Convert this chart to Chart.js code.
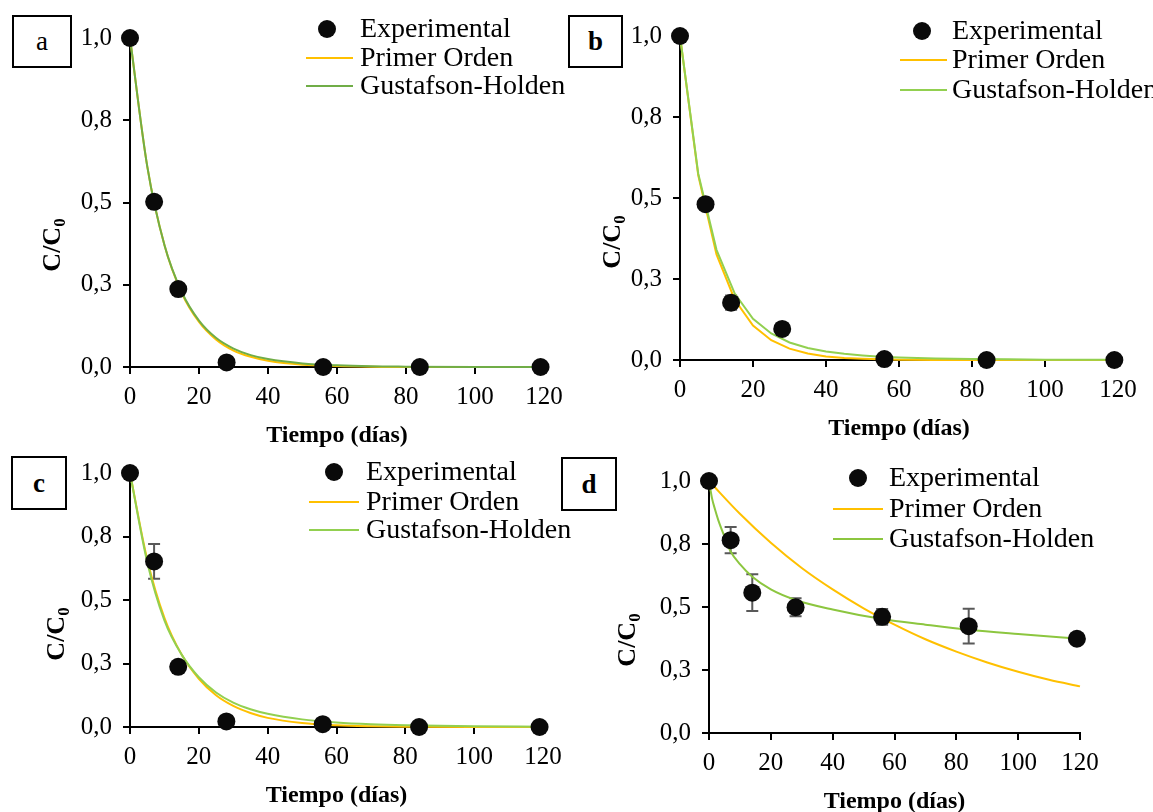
<!DOCTYPE html>
<html><head><meta charset="utf-8">
<script src="https://cdn.jsdelivr.net/npm/chart.js@4/dist/chart.umd.min.js"></script>
<style>
html,body{margin:0;padding:0;background:#fff;width:1153px;height:812px;overflow:hidden;position:relative;}
canvas{position:absolute;left:0;top:0;}
.box{position:absolute;border:2px solid #000;box-sizing:border-box;font-family:'Liberation Serif',serif;font-size:27px;display:flex;align-items:center;justify-content:center;color:#000;background:#fff;}
</style></head><body>
<script>
// ---- data ----
const days = [0, 7, 14, 28, 56, 84, 119];
const xTickValues = [0, 20, 40, 60, 80, 100, 120];
const yTickLabels = ['0,0', '0,3', '0,5', '0,8', '1,0'];
const seriesNames = ['Experimental', 'Primer Orden', 'Gustafson-Holden'];
const panelLetters = ['a', 'b', 'c', 'd'];

const expA = [1.0, 0.502, 0.237, 0.014, 0.0, 0.0, 0.0];
const errA = [0, 0, 0, 0, 0, 0, 0];
const expB = [1.0, 0.481, 0.177, 0.096, 0.003, 0.0, 0.0];
const errB = [0, 0, 0.022, 0, 0, 0, 0];
const expC = [1.0, 0.652, 0.237, 0.022, 0.011, 0.0, 0.0];
const errC = [0, 0.068, 0, 0, 0, 0, 0];
const expD = [1.0, 0.765, 0.557, 0.499, 0.461, 0.424, 0.374];
const errD = [0, 0.052, 0.073, 0.036, 0.031, 0.069, 0];

const modelDaysA = [0, 5, 10, 15, 20, 25, 30, 35, 40, 50, 60, 70, 80, 100, 120];
const primerA = [1.0, 0.61, 0.37, 0.225, 0.137, 0.083, 0.05, 0.031, 0.019, 0.007, 0.003, 0.001, 0, 0, 0];
const ghA     = [1.0, 0.61, 0.37, 0.228, 0.141, 0.088, 0.056, 0.036, 0.024, 0.011, 0.005, 0.002, 0.001, 0, 0];

const modelDaysB = [0, 5, 10, 15, 20, 25, 30, 35, 40, 45, 50, 55, 60, 70, 80, 90, 100, 110, 120];
const primerB = [1.0, 0.57, 0.326, 0.186, 0.106, 0.061, 0.035, 0.02, 0.011, 0.006, 0.004, 0.002, 0.001, 0, 0, 0, 0, 0, 0];
const ghB     = [1.0, 0.575, 0.34, 0.205, 0.127, 0.082, 0.054, 0.037, 0.026, 0.019, 0.014, 0.01, 0.008, 0.005, 0.003, 0.002, 0.001, 0.001, 0.001];

const modelDaysC = [0, 5, 10, 15, 20, 25, 30, 35, 40, 50, 60, 70, 80, 100, 120];
const primerC = [1.0, 0.66, 0.43, 0.285, 0.19, 0.125, 0.083, 0.055, 0.036, 0.016, 0.007, 0.003, 0.001, 0, 0];
const ghC     = [1.0, 0.65, 0.42, 0.285, 0.196, 0.136, 0.096, 0.07, 0.052, 0.03, 0.018, 0.011, 0.007, 0.003, 0.001];

const primerDaysD = [0, 10, 20, 30, 40, 50, 60, 70, 80, 90, 100, 110, 120];
const primerD = [1.0, 0.87, 0.755, 0.655, 0.57, 0.495, 0.43, 0.372, 0.323, 0.28, 0.243, 0.211, 0.185];
const ghDaysD = [0, 1, 2, 3, 5, 7, 10, 14, 20, 28, 40, 56, 70, 84, 100, 120];
const ghD     = [1.0, 0.93, 0.885, 0.845, 0.78, 0.72, 0.67, 0.62, 0.57, 0.528, 0.49, 0.452, 0.43, 0.41, 0.393, 0.374];

// ---- drawing ----
const FONT = "'Liberation Serif', 'Times New Roman', serif";
const ORANGE = '#FFC000';
const CW = 1153, CH = 840;
const YW = 60, XH = 83;

const pts = (xs, ys) => xs.map((x, i) => ({x: x, y: ys[i]}));

const panels = [
  {area: {left: 130, right: 544, top: 38, bottom: 367}, exp: expA, err: errA, mx1: modelDaysA, m1: primerA, mx2: modelDaysA, m2: ghA, green: '#70AD47', tension: true,
   legend: {dotX: 327, textX: 360, lx1: 306, lx2: 353, ys: [29, 58, 86]}, ytitle: {x: 51, y: 245}, box: {l: 12, t: 15, w: 60, h: 53, bold: false}},
  {area: {left: 680, right: 1118, top: 36, bottom: 360}, exp: expB, err: errB, mx1: modelDaysB, m1: primerB, mx2: modelDaysB, m2: ghB, green: '#92D050', tension: false,
   legend: {dotX: 922, textX: 952, lx1: 900, lx2: 947, ys: [31, 60, 90]}, ytitle: {x: 611, y: 242}, box: {l: 568, t: 15, w: 55, h: 53, bold: true}},
  {area: {left: 130, right: 543, top: 473, bottom: 727}, exp: expC, err: errC, mx1: modelDaysC, m1: primerC, mx2: modelDaysC, m2: ghC, green: '#92D050', tension: true,
   legend: {dotX: 334, textX: 366, lx1: 309, lx2: 359, ys: [472, 502, 530]}, ytitle: {x: 55, y: 634}, box: {l: 11, t: 456, w: 56, h: 54, bold: true}},
  {area: {left: 709, right: 1080, top: 481, bottom: 733}, exp: expD, err: errD, mx1: primerDaysD, m1: primerD, mx2: ghDaysD, m2: ghD, green: '#8CC63F', tension: true,
   legend: {dotX: 858, textX: 889, lx1: 833, lx2: 883, ys: [478, 509, 539]}, ytitle: {x: 626, y: 640}, box: {l: 561, t: 457, w: 56, h: 54, bold: true}}
];

const errorBarPlugin = {
  id: 'errbars',
  beforeDatasetsDraw(chart, args, opts) {
    const ctx = chart.ctx, xs = chart.scales.x, ys = chart.scales.y;
    const ds = chart.data.datasets[0];
    ctx.save();
    ctx.strokeStyle = '#595959';
    ctx.lineWidth = 2;
    ds.data.forEach((p, i) => {
      const e = opts.err[i];
      if (!e) return;
      const px = xs.getPixelForValue(p.x);
      const y1 = ys.getPixelForValue(p.y + e), y2 = ys.getPixelForValue(p.y - e);
      ctx.beginPath();
      ctx.moveTo(px, y1); ctx.lineTo(px, y2);
      ctx.moveTo(px - 6, y1); ctx.lineTo(px + 6, y1);
      ctx.moveTo(px - 6, y2); ctx.lineTo(px + 6, y2);
      ctx.stroke();
    });
    ctx.restore();
  }
};

const extrasPlugin = {
  id: 'extras',
  afterDraw(chart, args, opts) {
    const ctx = chart.ctx;
    const lg = opts.legend;
    const dss = chart.data.datasets;
    ctx.save();
    // legend
    ctx.font = '28px ' + FONT;
    ctx.textBaseline = 'middle';
    ctx.textAlign = 'left';
    ctx.fillStyle = '#000';
    dss.forEach((ds, i) => {
      const y = lg.ys[i];
      if (ds.showLine === false) {
        ctx.beginPath();
        ctx.fillStyle = ds.backgroundColor;
        ctx.arc(lg.dotX, y, ds.pointRadius, 0, Math.PI * 2);
        ctx.fill();
      } else {
        ctx.beginPath();
        ctx.strokeStyle = ds.borderColor;
        ctx.lineWidth = ds.borderWidth;
        ctx.moveTo(lg.lx1, y); ctx.lineTo(lg.lx2, y);
        ctx.stroke();
      }
      ctx.fillStyle = '#000';
      ctx.fillText(ds.label, lg.textX, y + 1);
    });
    // rotated y title with subscript
    const t = opts.ytitle;
    ctx.translate(t.x, t.y);
    ctx.rotate(-Math.PI / 2);
    const main = 'C/C', sub = '0';
    ctx.font = 'bold 26px ' + FONT;
    const w1 = ctx.measureText(main).width;
    ctx.font = 'bold 17px ' + FONT;
    const w2 = ctx.measureText(sub).width;
    const x0 = -(w1 + w2) / 2;
    ctx.textBaseline = 'alphabetic';
    ctx.fillStyle = '#000';
    ctx.font = 'bold 26px ' + FONT;
    ctx.fillText(main, x0, 9);
    ctx.font = 'bold 17px ' + FONT;
    ctx.fillText(sub, x0 + w1, 14);
    ctx.restore();
  }
};

panels.forEach((p, idx) => {
  const canvas = document.createElement('canvas');
  canvas.width = CW; canvas.height = CH;
  canvas.style.width = CW + 'px'; canvas.style.height = CH + 'px';
  document.body.appendChild(canvas);
  const a = p.area;
  const lineOpts = (color, order) => ({showLine: true, pointRadius: 0, borderColor: color, borderWidth: 2, backgroundColor: color, order: order,
    tension: p.tension ? 0.4 : 0, cubicInterpolationMode: p.tension ? 'monotone' : 'default', clip: false, fill: false});
  new Chart(canvas, {
    type: 'scatter',
    data: {
      datasets: [
        {label: seriesNames[0], data: pts(days, p.exp), showLine: false, pointRadius: 9, pointHoverRadius: 9, order: 0,
         backgroundColor: '#0a0a0a', borderColor: '#0a0a0a', borderWidth: 0, clip: false},
        Object.assign({label: seriesNames[1], data: pts(p.mx1, p.m1)}, lineOpts(ORANGE, 2)),
        Object.assign({label: seriesNames[2], data: pts(p.mx2, p.m2)}, lineOpts(p.green, 1))
      ]
    },
    options: {
      responsive: false, animation: false, devicePixelRatio: 1, events: [],
      layout: {padding: {left: a.left - YW, right: CW - a.right, top: a.top, bottom: CH - a.bottom - XH}},
      plugins: {
        legend: {display: false}, tooltip: {enabled: false},
        errbars: {err: p.err},
        extras: {legend: p.legend, ytitle: p.ytitle}
      },
      scales: {
        x: {
          type: 'linear', min: 0, max: 120,
          afterFit(s) { s.height = XH; },
          afterBuildTicks(s) { s.ticks = xTickValues.map(v => ({value: v})); },
          ticks: {color: '#000', font: {family: FONT, size: 25}, padding: 8, maxRotation: 0, callback: v => String(v)},
          grid: {drawOnChartArea: false, drawTicks: true, tickLength: 7, color: '#000', lineWidth: 2},
          border: {color: '#000', width: 2},
          title: {display: true, text: 'Tiempo (días)', color: '#000', font: {family: FONT, size: 24, weight: 'bold'}, padding: 0}
        },
        y: {
          type: 'linear', min: 0, max: 1,
          afterFit(s) { s.width = YW; },
          ticks: {stepSize: 0.25, color: '#000', font: {family: FONT, size: 25}, padding: 11,
            callback: v => yTickLabels[Math.round(v / 0.25)]},
          grid: {drawOnChartArea: false, drawTicks: true, tickLength: 7, color: '#000', lineWidth: 2},
          border: {color: '#000', width: 2}
        }
      }
    },
    plugins: [errorBarPlugin, extrasPlugin]
  });
  const b = document.createElement('div');
  b.className = 'box';
  b.textContent = panelLetters[idx];
  b.style.left = p.box.l + 'px'; b.style.top = p.box.t + 'px';
  b.style.width = p.box.w + 'px'; b.style.height = p.box.h + 'px';
  b.style.fontWeight = p.box.bold ? 'bold' : 'normal';
  document.body.appendChild(b);
});
</script>
</body></html>
